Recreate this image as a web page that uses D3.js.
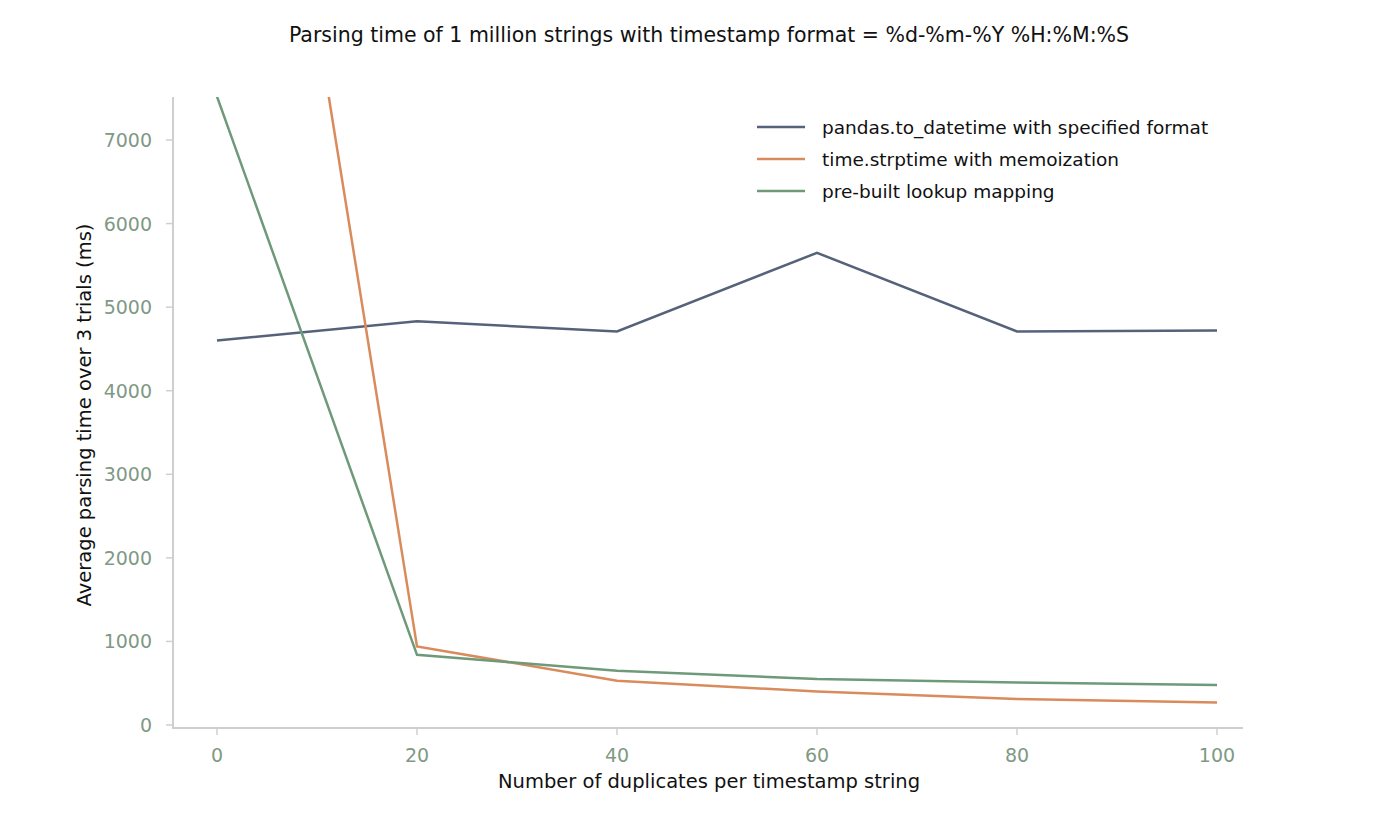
<!DOCTYPE html>
<html><head><meta charset="utf-8">
<script src="https://cdn.jsdelivr.net/npm/d3@7"></script>
<style>body{margin:0;background:#fff}text{font-family:"DejaVu Sans",sans-serif}</style>
</head><body>
<svg id="c" width="1382" height="819"></svg>
<script>
const xVals=[0,20,40,60,80,100];
const pandasVals=[4600,4830,4710,5650,4710,4720];
const memoVals=[15850,940,530,400,310,270];
const lookupVals=[7520,840,650,550,510,480];
const xTicks=[0,20,40,60,80,100];
const yTicks=[0,1000,2000,3000,4000,5000,6000,7000];
const series=[
 {name:"pandas.to_datetime with specified format",vals:pandasVals,color:"#56627a"},
 {name:"time.strptime with memoization",vals:memoVals,color:"#d98b5c"},
 {name:"pre-built lookup mapping",vals:lookupVals,color:"#6f9a7a"}];
const svg=d3.select("#c");
const x=d3.scaleLinear().domain([0,100]).range([217,1217]);
const y=d3.scaleLinear().domain([0,7000]).range([725,140]);
const axCol="#cfcfcf", tCol="#7f9985";
svg.append("defs").append("clipPath").attr("id","clip").append("rect")
 .attr("x",173).attr("y",97).attr("width",1070).attr("height",631);
svg.append("line").attr("x1",173).attr("x2",173).attr("y1",97).attr("y2",729).attr("stroke",axCol).attr("stroke-width",2);
svg.append("line").attr("x1",172).attr("x2",1243).attr("y1",728).attr("y2",728).attr("stroke",axCol).attr("stroke-width",2);
yTicks.forEach(t=>{
 svg.append("line").attr("x1",166).attr("x2",173).attr("y1",y(t)).attr("y2",y(t)).attr("stroke",axCol).attr("stroke-width",1.5);
 svg.append("text").attr("x",152).attr("y",y(t)+7).attr("text-anchor","end").attr("font-size",19).attr("fill",tCol).text(t);
});
xTicks.forEach(t=>{
 svg.append("line").attr("x1",x(t)).attr("x2",x(t)).attr("y1",728).attr("y2",735).attr("stroke",axCol).attr("stroke-width",1.5);
 svg.append("text").attr("x",x(t)).attr("y",762).attr("text-anchor","middle").attr("font-size",19).attr("fill",tCol).text(t);
});
const line=d3.line().x((d,i)=>x(xVals[i])).y(d=>y(d));
const g=svg.append("g").attr("clip-path","url(#clip)");
series.forEach(s=>g.append("path").attr("d",line(s.vals)).attr("fill","none").attr("stroke",s.color).attr("stroke-width",2.5));
series.forEach((s,i)=>{
 const yy=127+i*32;
 svg.append("line").attr("x1",757).attr("x2",805).attr("y1",yy).attr("y2",yy).attr("stroke",s.color).attr("stroke-width",2.5);
 svg.append("text").attr("x",822).attr("y",yy+7).attr("font-size",18.5).attr("fill","#111").text(s.name);
});
svg.append("text").attr("x",709).attr("y",42).attr("text-anchor","middle").attr("font-size",20.5).attr("fill","#111")
 .text("Parsing time of 1 million strings with timestamp format = %d-%m-%Y %H:%M:%S");
svg.append("text").attr("x",709).attr("y",788).attr("text-anchor","middle").attr("font-size",19.5).attr("fill","#111")
 .text("Number of duplicates per timestamp string");
svg.append("text").attr("transform","translate(91,415) rotate(-90)").attr("text-anchor","middle").attr("font-size",19.5).attr("fill","#111")
 .text("Average parsing time over 3 trials (ms)");
</script></body></html>
